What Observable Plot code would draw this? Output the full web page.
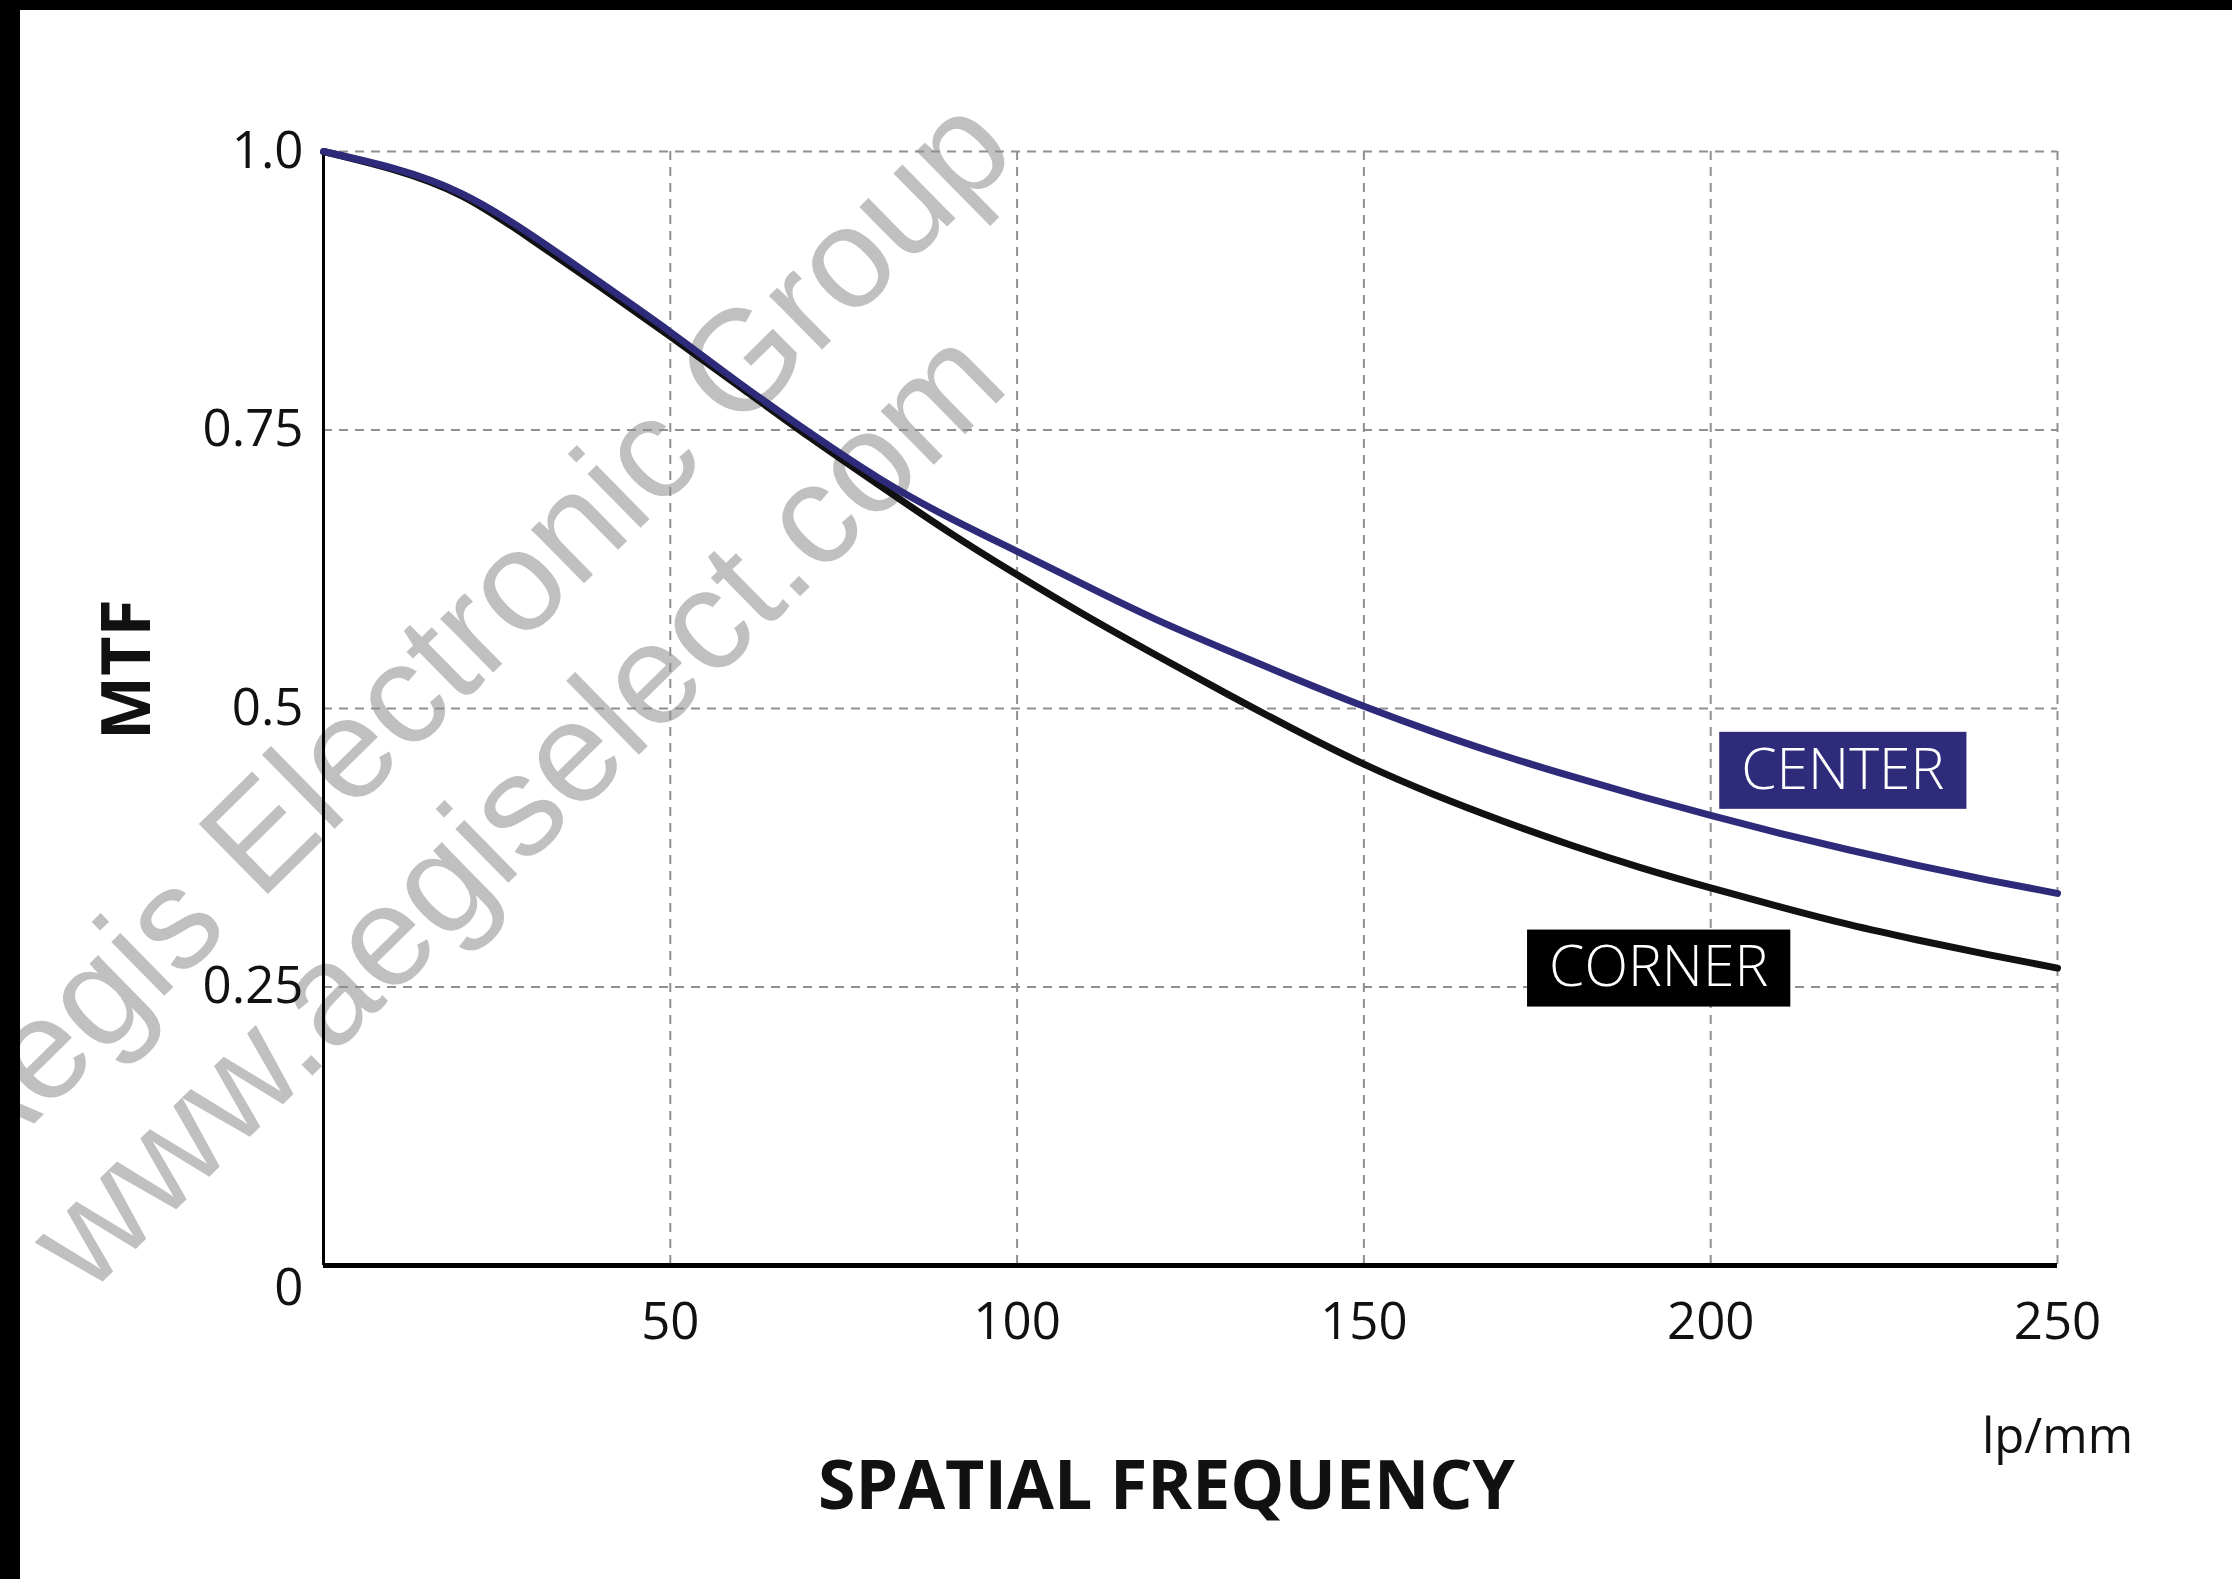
<!DOCTYPE html>
<html><head><meta charset="utf-8">
<script src="https://cdn.jsdelivr.net/npm/d3@7"></script>
<script src="https://cdn.jsdelivr.net/npm/@observablehq/plot@0.6"></script>
<style>
html,body{margin:0;padding:0;background:#fff;}
body{width:2232px;height:1579px;position:relative;overflow:hidden;font-family:"Open Sans",sans-serif;}
#chart{position:absolute;left:0;top:0;z-index:2;}
#frameTop{position:absolute;left:0;top:0;width:2232px;height:10px;background:#000;z-index:5}
#frameLeft{position:absolute;left:0;top:0;width:20px;height:1579px;background:#000;z-index:5}
.wm{position:absolute;white-space:nowrap;font-family:"Liberation Sans",Arial,sans-serif;font-size:143px;line-height:1;color:#c0c0c0;transform:translate(-50%,-50%) rotate(-44.5deg);z-index:1;pointer-events:none}
</style></head><body>
<div class="wm" style="left:463px;top:633px">Aegis Electronic Group</div>
<div class="wm" style="left:515px;top:807px">www.aegiselect.com</div>
<div id="chart"></div>
<div id="frameTop"></div><div id="frameLeft"></div>
<script>
const frequency = [0,10,20,30,40,50,60,70,80,90,100,110,120,130,140,150,160,170,180,190,200,210,220,230,240,250];
const centerMTF = [1.0,0.985,0.962,0.925,0.882,0.838,0.792,0.748,0.707,0.672,0.641,0.610,0.580,0.553,0.527,0.502,0.479,0.458,0.439,0.421,0.404,0.388,0.373,0.359,0.346,0.334];
const cornerMTF = [1.0,0.984,0.960,0.921,0.878,0.834,0.789,0.744,0.701,0.659,0.620,0.583,0.548,0.514,0.481,0.450,0.423,0.399,0.377,0.357,0.339,0.322,0.306,0.292,0.279,0.267];
const xTicks = [50,100,150,200,250];
const yTicks = [0.25,0.5,0.75,1.0];
const yTickLabels = ["0.25","0.5","0.75","1.0"];
const labelNames = ["CENTER","CORNER"];
const labelX = [219.05,192.5];
const labelY = [0.4445,0.267];

const CENTER_COLOR = "#2e2b7a";
const CORNER_COLOR = "#111111";
const labelFill = {CENTER: CENTER_COLOR, CORNER: "#000000"};

const centerData = frequency.map((f,i)=>({f, mtf: centerMTF[i]}));
const cornerData = frequency.map((f,i)=>({f, mtf: cornerMTF[i]}));
const labels = labelNames.map((name,i)=>({name, x: labelX[i], y: labelY[i]}));

const gridStyle = {stroke:"#8f8f8f", strokeOpacity:1, strokeWidth:2, strokeDasharray:"9,7"};

const plot = Plot.plot({
  width: 2232,
  height: 1579,
  marginLeft: 323,
  marginRight: 175,
  marginTop: 151,
  marginBottom: 314,
  style: {background:"transparent", fontFamily:"'Open Sans', sans-serif", color:"#111", overflow:"visible"},
  x: {domain:[0,250]},
  y: {domain:[0,1]},
  marks: [
    Plot.gridX(xTicks, gridStyle),
    Plot.gridY(yTicks, gridStyle),
    Plot.axisY(yTicks, {tickSize:0, tickPadding:20, fontSize:51, label:null, tickFormat: d => yTickLabels[yTicks.indexOf(d)]}),
    Plot.axisY([0], {tickSize:0, tickPadding:20, dy:23, fontSize:51, label:null, tickFormat: () => "0"}),
    Plot.axisX(xTicks, {tickSize:0, tickPadding:37, fontSize:51, label:null}),
    Plot.ruleX([0], {stroke:"#000", strokeWidth:3}),
    Plot.ruleY([0], {stroke:"#000", strokeWidth:5}),
    Plot.line(cornerData, {x:"f", y:"mtf", stroke:CORNER_COLOR, strokeWidth:7, curve:"natural"}),
    Plot.line(centerData, {x:"f", y:"mtf", stroke:CENTER_COLOR, strokeWidth:7, curve:"natural"}),
    Plot.text(labels, {x:"x", y:"y", text:"name", fill:"#fff", fontSize:57, fontWeight:300, textAnchor:"middle", lineAnchor:"middle"}),
    Plot.text(["MTF"], {text: d => d, frameAnchor:"left", dx:-195, dy:-39, rotate:-90, fontSize:68, fontWeight:"bold", textAnchor:"middle", fill:"#111"}),
    Plot.text(["SPATIAL FREQUENCY"], {text: d => d, frameAnchor:"bottom", dx:-24, dy:243, fontSize:68, fontWeight:"bold", textAnchor:"middle", fill:"#111"}),
    Plot.text(["lp/mm"], {text: d => d, frameAnchor:"bottom-right", dy:187, fontSize:49, textAnchor:"middle", fill:"#111"})
  ]
});
document.getElementById("chart").append(plot);

// filled boxes behind the curve labels, sized to the rendered text
const xs = plot.scale("x"), ys = plot.scale("y");
const ns = "http://www.w3.org/2000/svg";
const allTexts = Array.from(plot.querySelectorAll("text"));
labels.forEach(d => {
  const t = allTexts.find(el => el.textContent === d.name);
  if (!t) return;
  const bb = t.getBBox();
  const w = bb.width + 44, h = 77;
  const r = document.createElementNS(ns, "rect");
  r.setAttribute("x", xs.apply(d.x) - w/2);
  r.setAttribute("y", ys.apply(d.y) - h/2);
  r.setAttribute("width", w);
  r.setAttribute("height", h);
  r.setAttribute("fill", labelFill[d.name]);
  t.parentNode.insertBefore(r, t);
});
</script>
</body></html>
